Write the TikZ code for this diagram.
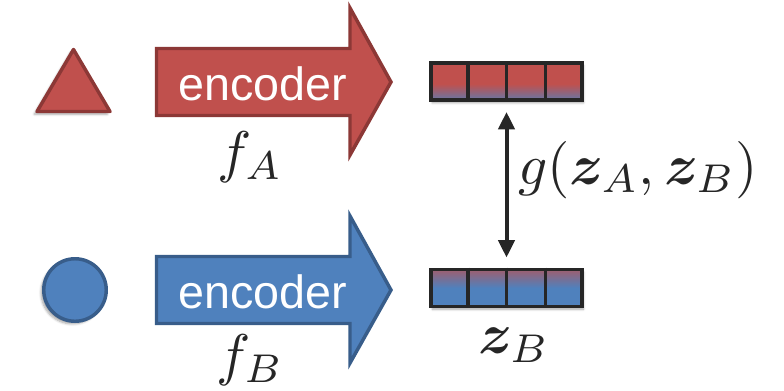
\documentclass[tikz,border=0pt]{standalone}
\usepackage{amsmath,bm,graphicx}
\usepackage{fontspec}
\newfontfamily\encfont{Liberation Sans}
\usetikzlibrary{arrows.meta,calc,shadows.blur}
\definecolor{redF}{HTML}{C0504D}
\definecolor{redD}{HTML}{8C3836}
\definecolor{bluF}{HTML}{4F81BD}
\definecolor{bluD}{HTML}{385D8A}
\definecolor{inkD}{HTML}{262626}
\colorlet{mixA}{bluF!80!redF}
\colorlet{mixB}{redF!70!bluF}
\pgfdeclareverticalshading{vecA}{100bp}{color(0bp)=(mixA); color(25bp)=(mixA); color(47bp)=(redF); color(100bp)=(redF)}
\pgfdeclareverticalshading{vecB}{100bp}{color(0bp)=(bluF); color(50bp)=(bluF); color(75bp)=(mixB); color(100bp)=(mixB)}
\newcommand{\bigmath}[1]{\scalebox{4.3}{$#1$}}
\begin{document}
\begin{tikzpicture}[x=0.75pt,y=-0.75pt,
  vec/.style={draw=inkD, line width=2.8pt, minimum width=113.4pt, minimum height=27.9pt, inner sep=0pt,
    blur shadow={shadow xshift=1pt, shadow yshift=-2pt, shadow blur steps=6, shadow opacity=35}},
  cellline/.style={draw=inkD, line width=2.6pt},
  enc/.style={text=white, font=\encfont\fontsize{35}{40}\selectfont, anchor=base, inner sep=0pt},
  lbl/.style={inner sep=0pt, text=inkD},
  bigarrow/.style={line width=2.6pt, line join=miter},
  inshape/.style={line width=2.6pt, line join=round,
    blur shadow={shadow xshift=-2pt, shadow yshift=-2pt, shadow blur steps=6, shadow opacity=35}},
  dbl/.style={draw=inkD, line width=3pt, {Triangle[length=13pt,width=12pt]}-{Triangle[length=13pt,width=12pt]}, shorten <=7.5pt, shorten >=7.5pt}]
\useasboundingbox (0,0) rectangle (784,390);

% inputs
\draw[inshape, fill=redF, draw=redD] (73.5,49.5) -- (110,111.5) -- (37,111.5) -- cycle;
\node[circle, inshape, fill=bluF, draw=bluD, minimum size=46.9pt, inner sep=0pt] (B) at (75,290) {};

% encoder arrows
\draw[bigarrow, fill=redF, draw=redD] (156.5,48.5) -- (350,48.5) -- (350,8) -- (391,82) -- (350,155) -- (350,115.5) -- (156.5,115.5) -- cycle;
\draw[bigarrow, fill=bluF, draw=bluD] (156.5,256.5) -- (350,256.5) -- (350,216) -- (391,290) -- (350,363) -- (350,323.5) -- (156.5,323.5) -- cycle;
\node[enc] (encA) at (263,100) {encoder};
\node[enc] (encB) at (263,308) {encoder};
\node[lbl] (fA) at (250,157) {\bigmath{f_A}};
\node[lbl] (fB) at (250,360) {\bigmath{f_B}};

% embeddings
\node[vec, shading=vecA] (zA) at (506.5,81.5) {};
\node[vec, shading=vecB] (zB) at (506.5,288) {};
\foreach \i in {1,2,3} {
  \draw[cellline] ($(zA.north west)!\i/4!(zA.north east)$) -- ($(zA.south west)!\i/4!(zA.south east)$);
  \draw[cellline] ($(zB.north west)!\i/4!(zB.north east)$) -- ($(zB.south west)!\i/4!(zB.south east)$);
}
\draw[dbl] (zA.south) -- (zB.north);
\node[lbl] (g) at (638,170) {\bigmath{g(\bm{z}_A,\bm{z}_B)}};
\node[lbl] (zBl) at (514,345) {\bigmath{\bm{z}_B}};
\end{tikzpicture}
\end{document}
